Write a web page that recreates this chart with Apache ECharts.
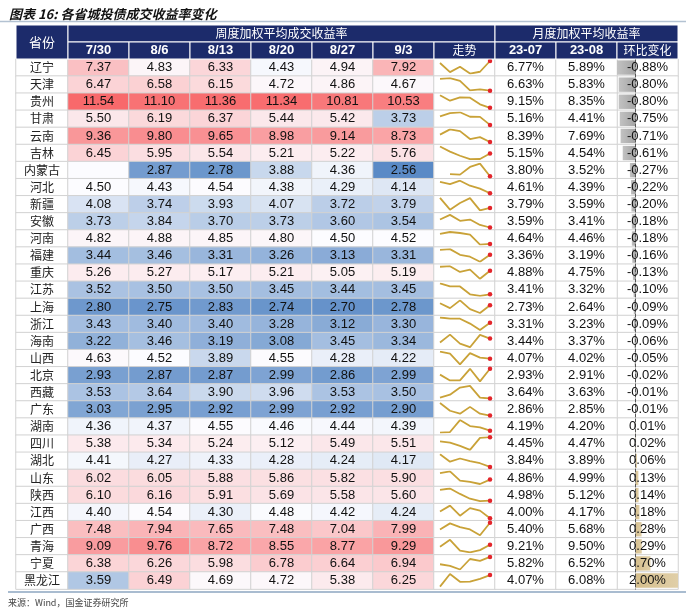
<!DOCTYPE html>
<html><head><meta charset="utf-8">
<script src="https://cdn.jsdelivr.net/npm/echarts@6/dist/echarts.min.js"></script>
<style>html,body{margin:0;padding:0;background:#fff}#c{width:700px;height:615px}</style>
</head><body><div id="c"></div>
<script>
const provinces = ['辽宁','天津','贵州','甘肃','云南','吉林','内蒙古','河北','新疆','安徽','河南','福建','重庆','江苏','上海','浙江','海南','山西','北京','西藏','广东','湖南','四川','湖北','山东','陕西','江西','广西','青海','宁夏','黑龙江'];
const weekLabels = ['7/30','8/6','8/13','8/20','8/27','9/3'];
const wk0730 = [7.37,6.47,11.54,5.50,9.36,6.45,null,4.50,4.08,3.73,4.82,3.44,5.26,3.52,2.80,3.43,3.22,4.63,2.93,3.53,3.03,4.36,5.38,4.41,6.02,6.10,4.40,7.48,9.09,6.38,3.59];
const wk0806 = [4.83,6.58,11.10,6.19,9.80,5.95,2.87,4.43,3.74,3.84,4.88,3.46,5.27,3.50,2.75,3.40,3.46,4.52,2.87,3.64,2.95,4.37,5.34,4.27,6.05,6.16,4.54,7.94,9.76,6.26,6.49];
const wk0813 = [6.33,6.15,11.36,6.37,9.65,5.54,2.78,4.54,3.93,3.70,4.85,3.31,5.17,3.50,2.83,3.40,3.19,3.89,2.87,3.90,2.92,4.55,5.24,4.33,5.88,5.91,4.30,7.65,8.72,5.98,4.69];
const wk0820 = [4.43,4.72,11.34,5.44,8.98,5.21,3.88,4.38,4.07,3.73,4.80,3.26,5.21,3.45,2.74,3.28,3.08,4.55,2.99,3.96,2.99,4.46,5.12,4.28,5.86,5.69,4.48,7.48,8.55,6.78,4.72];
const wk0827 = [4.94,4.86,10.81,5.42,9.14,5.22,4.36,4.29,3.72,3.60,4.50,3.13,5.05,3.44,2.70,3.12,3.45,4.28,2.86,3.53,2.92,4.44,5.49,4.24,5.82,5.58,4.42,7.04,8.77,6.64,5.38];
const wk0903 = [7.92,4.67,10.53,3.73,8.73,5.76,2.56,4.14,3.79,3.54,4.52,3.31,5.19,3.45,2.78,3.30,3.34,4.22,2.99,3.50,2.90,4.39,5.51,4.17,5.90,5.60,4.24,7.99,9.29,6.94,6.25];
const monthLabels = ['23-07','23-08'];
const m2307 = [6.77,6.63,9.15,5.16,8.39,5.15,3.80,4.61,3.79,3.59,4.64,3.36,4.88,3.41,2.73,3.31,3.44,4.07,2.93,3.64,2.86,4.19,4.45,3.84,4.86,4.98,4.00,5.40,9.21,5.82,4.07];
const m2308 = [5.89,5.83,8.35,4.41,7.69,4.54,3.52,4.39,3.59,3.41,4.46,3.19,4.75,3.32,2.64,3.23,3.37,4.02,2.91,3.63,2.85,4.20,4.47,3.89,4.99,5.12,4.17,5.68,9.50,6.52,6.08];
const momChange = [-0.88,-0.80,-0.80,-0.75,-0.71,-0.61,-0.27,-0.22,-0.20,-0.18,-0.18,-0.16,-0.13,-0.10,-0.09,-0.09,-0.06,-0.05,-0.02,-0.01,-0.01,0.01,0.02,0.06,0.13,0.14,0.18,0.28,0.29,0.70,2.00];
const headTitles = ['省份','周度加权平均成交收益率','走势','月度加权平均收益率','环比变化'];
const titleText = '图表 16: 各省城投债成交收益率变化';
const sourceText = '来源：Wind，国金证券研究所';

// ---- layout ----
const weekCols = [wk0730,wk0806,wk0813,wk0820,wk0827,wk0903];
const NR = provinces.length;
const TOP = 59, RH = 17.1, TH = RH * NR;
const HT = 25, HR = 17;
const XP = 16, WP = 52, CW = 61;
const XW = XP + WP, XT = XW + 6 * CW, XM = XT + CW, XB = XM + 2 * CW, XE = XB + CW;
const NAVY = '#1c2b6b', BORDER = '#d2d2d2';
const NUMFONT = 'Liberation Sans, Arial, sans-serif';
const CJK = 'Noto Sans CJK SC';

// colour score: midpoint-centred 3-colour scale over all weekly values
const allVals = [].concat(...weekCols).filter(v => v != null);
const vMin = Math.min(...allVals), vMax = Math.max(...allVals), vMid = 4.5;
const score = v => v == null ? 0 : (v < vMid ? -(vMid - v) / (vMid - vMin) : (v - vMid) / (vMax - vMid));

const rowIdx = provinces.map((_, i) => i);
const grids = [], xAxes = [], yAxes = [], series = [];
function catGrid(left, width, ncols) {
  grids.push({left, top: TOP, width, height: TH});
  const gi = grids.length - 1;
  xAxes.push({type: 'category', gridIndex: gi, data: Array.from({length: ncols}, (_, i) => i), show: false});
  yAxes.push({type: 'category', gridIndex: gi, data: rowIdx, inverse: true, show: false});
  return gi;
}
const cellStyle = (fill) => ({color: fill, borderColor: BORDER, borderWidth: 1});

// province column
let g = catGrid(XP, WP, 1);
series.push({type: 'heatmap', xAxisIndex: g, yAxisIndex: g, itemStyle: cellStyle('#ffffff'), silent: true,
  label: {show: true, color: '#222', fontSize: 12, fontFamily: CJK, formatter: p => provinces[p.value[1]]},
  data: provinces.map((_, r) => [0, r, 0])});
// weekly heatmap
g = catGrid(XW, 6 * CW, 6);
const weekData = [];
weekCols.forEach((col, c) => col.forEach((v, r) => weekData.push([c, r, score(v), v])));
series.push({type: 'heatmap', xAxisIndex: g, yAxisIndex: g, itemStyle: {borderColor: BORDER, borderWidth: 1}, silent: true,
  label: {show: true, color: '#111', fontSize: 13, fontFamily: NUMFONT, formatter: p => p.value[3] == null ? '' : p.value[3].toFixed(2)},
  data: weekData});
const weekSeriesIndex = series.length - 1;
// trend background
g = catGrid(XT, CW, 1);
series.push({type: 'heatmap', xAxisIndex: g, yAxisIndex: g, itemStyle: cellStyle('#ffffff'), silent: true,
  label: {show: false}, data: provinces.map((_, r) => [0, r, 0])});
// monthly
g = catGrid(XM, 2 * CW, 2);
const monData = [];
[m2307, m2308].forEach((col, c) => col.forEach((v, r) => monData.push([c, r, 0, v])));
series.push({type: 'heatmap', xAxisIndex: g, yAxisIndex: g, itemStyle: cellStyle('#ffffff'), silent: true,
  label: {show: true, color: '#111', fontSize: 13, fontFamily: NUMFONT, formatter: p => p.value[3].toFixed(2) + '%'},
  data: monData});
// mom bars
grids.push({left: XB, top: TOP, width: CW, height: TH});
g = grids.length - 1;
xAxes.push({type: 'value', gridIndex: g, min: 'dataMin', max: 'dataMax', show: false});
yAxes.push({type: 'category', gridIndex: g, data: rowIdx, inverse: true, z: 5,
  axisLine: {show: true, onZero: true, lineStyle: {color: '#555', type: [3, 2], width: 1}},
  axisTick: {show: false}, axisLabel: {show: false}, splitLine: {show: false}});
// label grid for mom (drawn on top)
const gL = catGrid(XB, CW, 1);
series.push({type: 'heatmap', xAxisIndex: gL, yAxisIndex: gL, itemStyle: cellStyle('#ffffff'), silent: true,
  label: {show: false}, data: provinces.map((_, r) => [0, r, 0]), z: 1});
series.push({type: 'bar', xAxisIndex: g, yAxisIndex: g, barWidth: '84%', silent: true, z: 3,
  data: momChange.map(v => ({value: v, itemStyle: {color: v < 0
    ? new echarts.graphic.LinearGradient(0, 0, 1, 0, [{offset: 0, color: '#c2c2c2'}, {offset: 1, color: '#a4a4a4'}])
    : new echarts.graphic.LinearGradient(0, 0, 1, 0, [{offset: 0, color: '#d5be8c'}, {offset: 1, color: '#e0cfa8'}])}}))});
series.push({type: 'heatmap', xAxisIndex: gL, yAxisIndex: gL, itemStyle: {color: 'rgba(0,0,0,0)', borderWidth: 0}, silent: true, z: 6,
  label: {show: true, color: '#111', fontSize: 13, fontFamily: NUMFONT, formatter: p => p.value[3].toFixed(2) + '%'},
  data: momChange.map((v, r) => [0, r, 0, v])});
// sparklines
provinces.forEach((_, r) => {
  grids.push({left: XT + 6, top: TOP + r * RH + 2, width: CW - 11, height: RH - 4.5});
  const gi = grids.length - 1;
  xAxes.push({type: 'category', gridIndex: gi, data: weekLabels, boundaryGap: false, show: false});
  yAxes.push({type: 'value', gridIndex: gi, min: 'dataMin', max: 'dataMax', show: false});
  const vals = weekCols.map(col => col[r]);
  const last = vals.length - 1;
  series.push({type: 'line', xAxisIndex: gi, yAxisIndex: gi, silent: true, z: 4,
    symbol: 'circle', showSymbol: true, showAllSymbol: true,
    symbolSize: (v, p) => p.dataIndex === last ? 4.5 : 0,
    lineStyle: {color: '#c9a238', width: 1.8},
    itemStyle: {color: p => p.dataIndex === last ? '#e3252b' : '#c9a238'},
    data: vals});
});

// header graphics
const gfx = [];
function hcell(x, y, w, h, text, font) {
  gfx.push({type: 'rect', shape: {x, y, width: w, height: h}, style: {fill: NAVY, stroke: '#ffffff', lineWidth: 1}, z: 10});
  gfx.push({type: 'text', x: x + w / 2, y: y + h / 2, z: 11,
    style: {text, fill: '#ffffff', font, align: 'center', verticalAlign: 'middle', textAlign: 'center', textVerticalAlign: 'middle'}});
}
hcell(XP, HT, WP, 2 * HR, headTitles[0], '13px ' + CJK);
hcell(XW, HT, 7 * CW, HR, headTitles[1], '12px ' + CJK);
hcell(XM, HT, 3 * CW, HR, headTitles[3], '12px ' + CJK);
weekLabels.forEach((t, i) => hcell(XW + i * CW, HT + HR, CW, HR, t, 'bold 13px ' + NUMFONT));
hcell(XT, HT + HR, CW, HR, headTitles[2], '12px ' + CJK);
monthLabels.forEach((t, i) => hcell(XM + i * CW, HT + HR, CW, HR, t, 'bold 13px ' + NUMFONT));
hcell(XB, HT + HR, CW, HR, headTitles[4], '12px ' + CJK);
gfx.push({type: 'line', shape: {x1: 0, y1: 21.5, x2: XE + 8, y2: 21.5}, style: {stroke: '#b3c2d2', lineWidth: 1.5}});
gfx.push({type: 'line', shape: {x1: 8, y1: TOP + TH + 3, x2: XE + 8, y2: TOP + TH + 3}, style: {stroke: '#a9bcd0', lineWidth: 2}});
gfx.push({type: 'text', x: 8, y: 603, style: {text: sourceText, fill: '#444', font: '9px ' + CJK, verticalAlign: 'middle', textVerticalAlign: 'middle'}});

const chart = echarts.init(document.getElementById('c'), null, {renderer: 'canvas'});
chart.setOption({
  animation: false,
  backgroundColor: '#ffffff',
  title: {text: titleText, left: 4, top: 3, textStyle: {fontSize: 13, fontWeight: 'bold', fontStyle: 'italic', color: '#111', fontFamily: CJK}},
  grid: grids, xAxis: xAxes, yAxis: yAxes,
  visualMap: {type: 'continuous', show: false, seriesIndex: weekSeriesIndex, dimension: 2, min: -1, max: 1,
    inRange: {color: ['#5A8AC6', '#FCFCFF', '#F8696B']}},
  series, graphic: gfx
});
</script></body></html>
